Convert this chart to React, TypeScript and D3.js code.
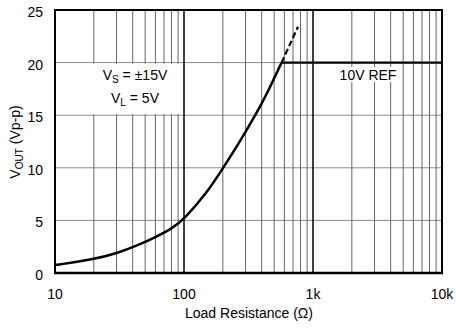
import React from "react";
import * as d3 from "d3";

const resistance = [10, 20, 30, 45, 60, 80, 100, 150, 200, 270, 366, 450, 571];
const vout = [0.75, 1.3, 1.85, 2.7, 3.4, 4.2, 5.1, 7.6, 9.95, 12.45, 15.2, 17.3, 20];
const dashedR = [571, 660, 765];
const dashedV = [20, 21.7, 23.4];
const refR = [571, 10000];
const refV = [20, 20];
const xTicks = [10, 100, 1000, 10000];
const xTickLabels = ["10", "100", "1k", "10k"];
const yTicks = [0, 5, 10, 15, 20, 25];

const W = 456;
const H = 330;
const left = 55;
const right = 442;
const top = 10;
const bottom = 273;
const FONT = "'Liberation Sans', Arial, Helvetica, sans-serif";

export default function App() {
  const x = d3.scaleLog().domain([10, 10000]).range([left, right]);
  const y = d3.scaleLinear().domain([0, 25]).range([bottom, top]);

  const minor: number[] = [];
  [10, 100, 1000].forEach((d) => {
    for (let k = 2; k <= 9; k++) minor.push(d * k);
  });

  const line = d3
    .line<number>()
    .x((_, i) => x(resistance[i]))
    .y((d) => y(d))
    .curve(d3.curveBasis);
  const dashLine = d3
    .line<number>()
    .x((_, i) => x(dashedR[i]))
    .y((d) => y(d))
    .curve(d3.curveCatmullRom.alpha(0.5));
  const refLine = d3
    .line<number>()
    .x((_, i) => x(refR[i]))
    .y((d) => y(d));

  return (
    <svg
      width={W}
      height={H}
      style={{ position: "absolute", left: 0, top: 0, background: "#fff" }}
      fontFamily={FONT}
    >
      <rect x={0} y={0} width={W} height={H} fill="#fff" />
      {yTicks.slice(1, -1).map((t) => (
        <line key={"h" + t} x1={left} x2={right} y1={y(t)} y2={y(t)} stroke="#8a8a8a" strokeWidth={1} />
      ))}
      {minor.map((m) => (
        <line key={"m" + m} x1={x(m)} x2={x(m)} y1={top} y2={bottom} stroke="#666" strokeWidth={1} />
      ))}
      <rect x={left + 1} y={y(20) + 1} width={x(100) - left - 2} height={y(15) - y(20) - 2} fill="#fff" />
      <rect x={337} y={67} width={62} height={15} fill="#fff" />
      {[100, 1000].map((d) => (
        <line key={"d" + d} x1={x(d)} x2={x(d)} y1={top} y2={bottom} stroke="#000" strokeWidth={1.5} />
      ))}
      <rect x={left} y={top} width={right - left} height={bottom - top} fill="none" stroke="#000" strokeWidth={2} />
      <line x1={left - 1} x2={right + 1} y1={bottom} y2={bottom} stroke="#000" strokeWidth={2.5} />
      <path d={line(vout) || ""} fill="none" stroke="#000" strokeWidth={2.5} />
      <path d={dashLine(dashedV) || ""} fill="none" stroke="#000" strokeWidth={2.2} strokeDasharray="6,3" />
      <path d={refLine(refV) || ""} fill="none" stroke="#000" strokeWidth={2.2} />
      {yTicks.map((t) => (
        <text key={"yt" + t} x={43} y={y(t) + 7} textAnchor="end" fontSize={14} fill="#000">
          {t}
        </text>
      ))}
      {xTicks.map((t, i) => (
        <text key={"xt" + t} x={x(t)} y={299} textAnchor="middle" fontSize={14} fill="#000">
          {xTickLabels[i]}
        </text>
      ))}
      <text x={249} y={318} textAnchor="middle" fontSize={14} fill="#000">
        Load Resistance (Ω)
      </text>
      <text transform="translate(20,142) rotate(-90)" textAnchor="middle" fontSize={14} fill="#000">
        V<tspan fontSize={10} dy={3}>OUT</tspan>
        <tspan dy={-3}> (Vp-p)</tspan>
      </text>
      <text x={135} y={80} textAnchor="middle" fontSize={14} fill="#000">
        V<tspan fontSize={10} dy={3}>S</tspan>
        <tspan dy={-3}> = ±15V</tspan>
      </text>
      <text x={135} y={103} textAnchor="middle" fontSize={14} fill="#000">
        V<tspan fontSize={10} dy={3}>L</tspan>
        <tspan dy={-3}> = 5V</tspan>
      </text>
      <text x={368} y={80} textAnchor="middle" fontSize={14} fill="#000">
        10V REF
      </text>
    </svg>
  );
}
